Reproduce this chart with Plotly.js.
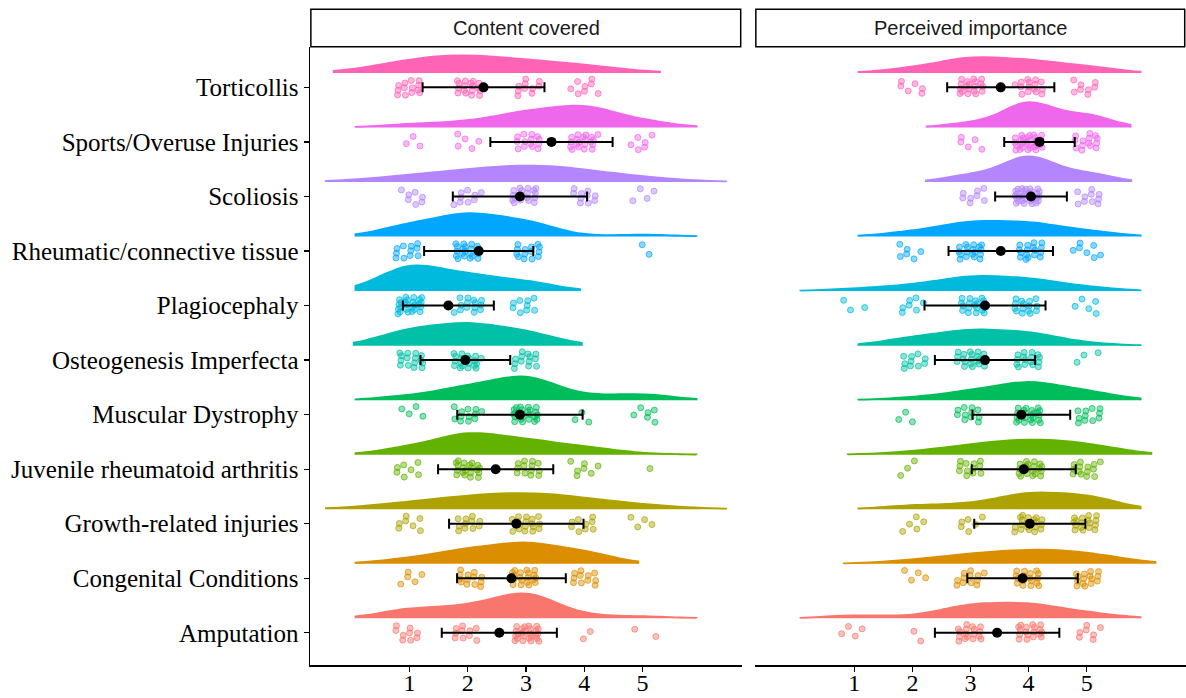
<!DOCTYPE html>
<html>
<head>
<meta charset="utf-8">
<script src="https://cdn.plot.ly/plotly-3.0.1.min.js"></script>
<style>
  html, body { margin: 0; padding: 0; background: #ffffff; }
  #chart { width: 1186px; height: 698px; }
</style>
</head>
<body>
<div id="chart"></div>
<script>
// ---------------- DATA ----------------
// Categories (bottom to top)
const categories = [
  "Amputation",
  "Congenital Conditions",
  "Growth-related injuries",
  "Juvenile rheumatoid arthritis",
  "Muscular Dystrophy",
  "Osteogenesis Imperfecta",
  "Plagiocephaly",
  "Rheumatic/connective tissue",
  "Scoliosis",
  "Sports/Overuse Injuries",
  "Torticollis"
];
// Likert response levels
const likertLevels = [1, 2, 3, 4, 5];
// Number of responses at each level 1..5, per category ("Content covered")
const contentCounts = [
  [9, 10, 25, 2, 2],
  [5, 13, 19, 11, 0],
  [7, 11, 17, 9, 4],
  [7, 20, 13, 7, 1],
  [4, 12, 23, 3, 6],
  [15, 20, 13, 0, 0],
  [25, 14, 9, 0, 0],
  [11, 21, 14, 0, 2],
  [7, 9, 18, 10, 4],
  [3, 5, 14, 20, 6],
  [13, 17, 10, 8, 0]
];
// Number of responses at each level 1..5, per category ("Perceived importance")
const importanceCounts = [
  [4, 2, 17, 18, 7],
  [0, 4, 12, 17, 15],
  [0, 5, 6, 20, 17],
  [0, 3, 12, 19, 14],
  [0, 3, 11, 23, 11],
  [0, 10, 19, 16, 3],
  [3, 7, 18, 15, 5],
  [0, 6, 18, 17, 7],
  [0, 0, 8, 30, 10],
  [0, 0, 5, 29, 14],
  [0, 6, 19, 15, 8]
];
const panelTitles = ["Content covered", "Perceived importance"];
const xTickValues = [1, 2, 3, 4, 5];
const palette = ["#F8766D", "#DB8E00", "#AEA200", "#64B200", "#00BD5C", "#00C1A7",
                 "#00BADE", "#00A6FF", "#B385FF", "#EF67EB", "#FF63B6"];

// ---------------- HELPERS ----------------
const W = 1186, H = 698;
const SERIF = "'Liberation Serif', 'Times New Roman', serif";
const SANS = "'Liberation Sans', Arial, sans-serif";
const VIOLIN_NUDGE = 0.265;   // density sits above the points row
const ADJUST = 1.75;          // bandwidth adjust (as in ggplot's adjust)
const JX = 0.24, JY = 0.155;  // jitter half-widths

function expand(counts) {
  const v = [];
  counts.forEach((c, k) => { for (let j = 0; j < c; j++) v.push(likertLevels[k]); });
  return v;
}
function mean(v) { return v.reduce((a, b) => a + b, 0) / v.length; }
function sdev(v) {
  const m = mean(v);
  return Math.sqrt(v.reduce((a, b) => a + (b - m) * (b - m), 0) / (v.length - 1));
}
function quantile(sorted, p) {
  const h = (sorted.length - 1) * p, lo = Math.floor(h), hi = Math.ceil(h);
  return sorted[lo] + (h - lo) * (sorted[hi] - sorted[lo]);
}
function nrd0(v) {
  const s = v.slice().sort((a, b) => a - b);
  const hi = sdev(v);
  let lo = Math.min(hi, (quantile(s, 0.75) - quantile(s, 0.25)) / 1.34);
  if (!lo) lo = hi || Math.abs(s[0]) || 1;
  return 0.9 * lo * Math.pow(v.length, -0.2);
}
// evenly spread display jitter (R2 low-discrepancy sequence)
function spread(k) {
  const u = (0.5 + k * 0.7548776662) % 1;
  const w = (0.5 + k * 0.5698402910) % 1;
  return [(u - 0.5) * 2 * JX, (w - 0.5) * 2 * JY];
}

const traces = [];
const panels = [contentCounts, importanceCounts];
const errX = [[], []], errY = [[], []], errSD = [[], []];

panels.forEach((countsSet, p) => {
  const xa = p === 0 ? "x" : "x2", ya = p === 0 ? "y" : "y2";
  countsSet.forEach((counts, i) => {
    const vals = expand(counts);
    const bw0 = nrd0(vals);
    const vmin = Math.min(...vals), vmax = Math.max(...vals);
    const col = palette[i];
    // half violin (density)
    traces.push({
      type: "violin", orientation: "h", xaxis: xa, yaxis: ya,
      x: vals, y: vals.map(() => i + VIOLIN_NUDGE),
      side: "positive", points: false,
      bandwidth: bw0 * ADJUST, spanmode: "manual", span: [vmin - 3 * bw0, vmax + 3 * bw0],
      scalegroup: "panel" + p, scalemode: "width",
      fillcolor: col, line: { color: col, width: 1.8 },
      box: { visible: false }, meanline: { visible: false },
      hoverinfo: "skip", showlegend: false
    });
    // jittered raw responses
    const px = [], py = [];
    vals.forEach((v, k) => {
      const d = spread(k + i * 37 + p * 211);
      px.push(v + d[0]); py.push(i + d[1]);
    });
    const rgb = col.match(/[0-9A-F]{2}/gi).map(h => parseInt(h, 16)).join(",");
    traces.push({
      type: "scatter", mode: "markers", xaxis: xa, yaxis: ya, x: px, y: py,
      marker: { size: 6, color: "rgba(" + rgb + ",0.45)",
                line: { color: "rgba(" + rgb + ",0.7)", width: 1 } },
      hoverinfo: "skip", showlegend: false
    });
    errX[p].push(mean(vals)); errY[p].push(i); errSD[p].push(sdev(vals));
  });
});
// mean +/- SD
[0, 1].forEach(p => {
  traces.push({
    type: "scatter", mode: "markers",
    xaxis: p === 0 ? "x" : "x2", yaxis: p === 0 ? "y" : "y2",
    x: errX[p], y: errY[p],
    error_x: { type: "data", array: errSD[p], visible: true, color: "#000000", thickness: 2, width: 5 },
    marker: { size: 10, color: "#000000" },
    hoverinfo: "skip", showlegend: false
  });
});

const xDom1 = [310 / W, 742 / W], xDom2 = [755 / W, 1];
const yDom = [(H - 665) / H, (H - 47) / H];
const yRange = [-0.59, 10.74];
const xRange = [-0.71, 6.71];

const baseX = {
  range: xRange, tickvals: xTickValues, ticktext: xTickValues.map(String),
  ticks: "outside", ticklen: 5, tickwidth: 1.3, tickcolor: "#000000",
  ticklabelstandoff: -9,
  showline: true, linecolor: "#000000", linewidth: 1.5,
  showgrid: false, zeroline: false, fixedrange: true,
  tickfont: { family: SERIF, size: 24, color: "#000000" }
};

const layout = {
  width: W, height: H,
  margin: { l: 0, r: 0, t: 0, b: 0, autoexpand: false },
  paper_bgcolor: "#ffffff", plot_bgcolor: "rgba(0,0,0,0)",
  showlegend: false,
  violinmode: "overlay", violingap: 0.06, violingroupgap: 0,
  xaxis: Object.assign({}, baseX, { domain: xDom1, anchor: "y" }),
  xaxis2: Object.assign({}, baseX, { domain: xDom2, anchor: "y2" }),
  yaxis: {
    domain: yDom, range: yRange, anchor: "x",
    tickvals: categories.map((c, i) => i), ticktext: categories,
    ticks: "outside", ticklen: 5, tickwidth: 1.3, tickcolor: "#000000",
    showline: true, linecolor: "#000000", linewidth: 1.5,
    showgrid: false, zeroline: false, fixedrange: true,
    tickfont: { family: SERIF, size: 25, color: "#000000" }
  },
  yaxis2: {
    domain: yDom, range: yRange, anchor: "x2",
    showticklabels: false, ticks: "", showline: false,
    showgrid: false, zeroline: false, fixedrange: true
  },
  shapes: [0, 1].map(p => ({
    type: "rect", xref: p === 0 ? "x domain" : "x2 domain", yref: "paper",
    x0: 0.002, x1: 0.997, y0: (H - 46.7) / H, y1: (H - 9.3) / H,
    line: { color: "#000000", width: 1.5 }, fillcolor: "#ffffff", layer: "above"
  })),
  annotations: panelTitles.map((t, p) => ({
    text: t, xref: p === 0 ? "x domain" : "x2 domain", yref: "paper",
    x: 0.5, y: (H - 28) / H, xanchor: "center", yanchor: "middle", showarrow: false,
    font: { family: SANS, size: 20, color: "#1a1a1a" }
  }))
};

Plotly.newPlot("chart", traces, layout, { staticPlot: true, displayModeBar: false });
</script>
</body>
</html>
